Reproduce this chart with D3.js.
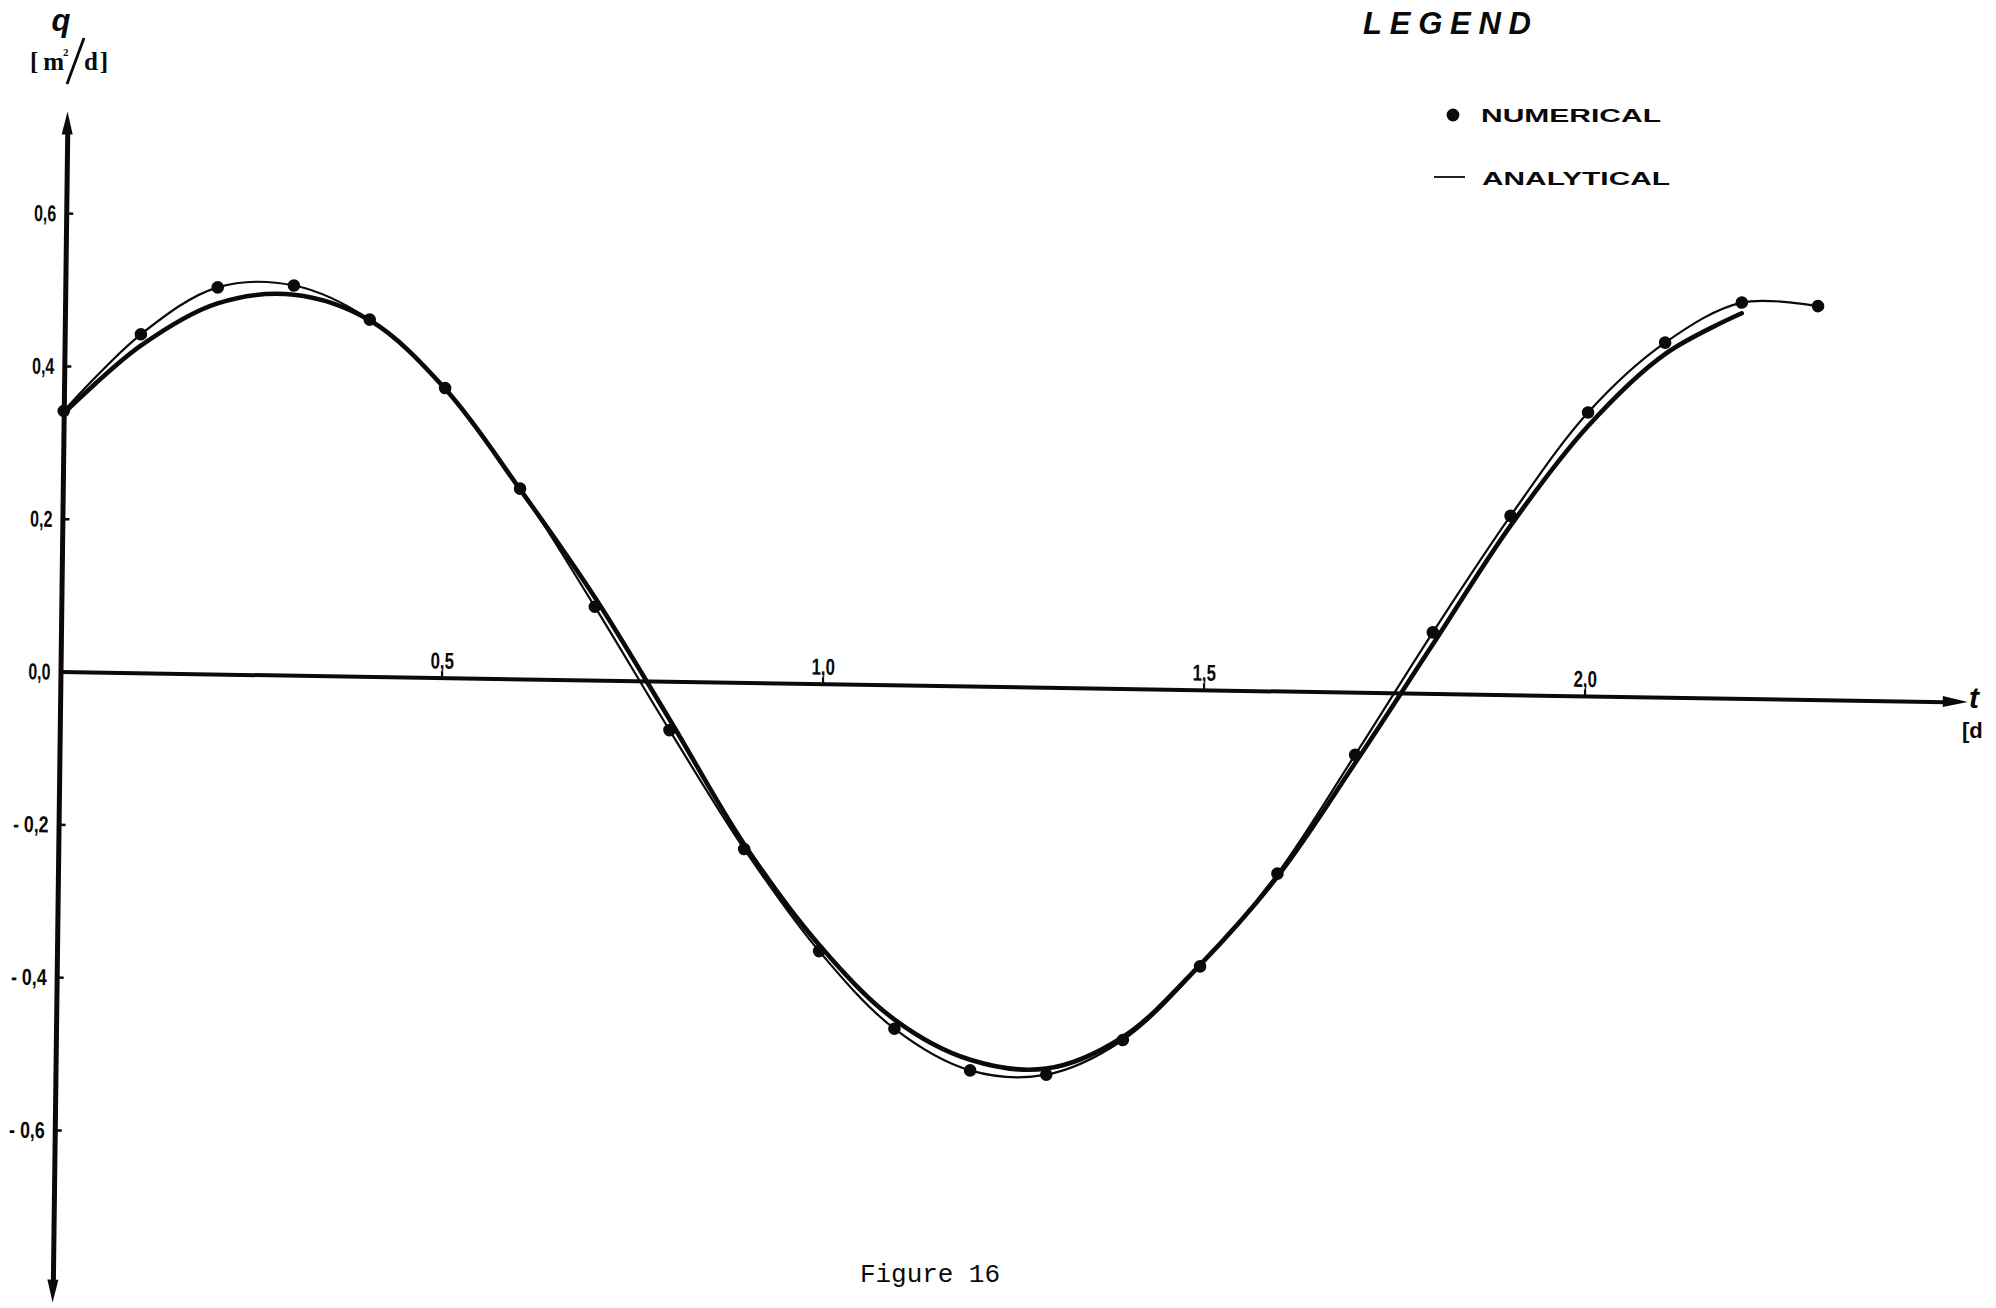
<!DOCTYPE html>
<html>
<head>
<meta charset="utf-8">
<script src="https://cdn.jsdelivr.net/npm/d3@7"></script>
<style>
  html, body { margin: 0; padding: 0; background: #fff; overflow: hidden; }
</style>
</head>
<body>
<svg id="chart" width="1996" height="1308"></svg>
<script>
// Discharge q [m²/d] against time t [d]
const timeDays = [0, 0.1, 0.2, 0.3, 0.4, 0.5, 0.6, 0.7, 0.8, 0.9, 1.0, 1.1,
                  1.2, 1.3, 1.4, 1.5, 1.6, 1.7, 1.8, 1.9, 2.0, 2.1, 2.2, 2.3];
const numericalQ = [0.341, 0.443, 0.506, 0.510, 0.467, 0.379, 0.249, 0.096,
                    -0.064, -0.218, -0.350, -0.450, -0.503, -0.507, -0.460, -0.362,
                    -0.239, -0.082, 0.080, 0.234, 0.371, 0.464, 0.518, 0.515];

const analyticalT = [0, 0.1, 0.2, 0.3, 0.4, 0.5, 0.6, 0.7, 0.8, 0.9, 1.0, 1.1,
                     1.2, 1.3, 1.4, 1.5, 1.6, 1.7, 1.8, 1.9, 2.0, 2.1, 2.2];
const analyticalQ = [0.338, 0.428, 0.485, 0.498, 0.466, 0.378, 0.248, 0.108,
                     -0.050, -0.212, -0.342, -0.438, -0.489, -0.499, -0.456, -0.360,
                     -0.243, -0.093, 0.064, 0.221, 0.353, 0.449, 0.504];

const yTicks = [0.6, 0.4, 0.2, 0, -0.2, -0.4, -0.6];
const yTickLabels = ["0,6", "0,4", "0,2", "0,0", "- 0,2", "- 0,4", "- 0,6"];
const xTicks = [0.5, 1.0, 1.5, 2.0];
const xTickLabels = ["0,5", "1,0", "1,5", "2,0"];

const legendLabels = ["NUMERICAL", "ANALYTICAL"];

// ---- layout ----
const W = 1996, H = 1308;
const origin = { x: 60.5, y: 671.5 };
const pxPerDay = 762, pxPerQ = 764;
const tMax = 2.503, qTop = 0.733, qBottom = -0.826;
const skewX = 0.016, skewY = -0.0125;   // the drawing sits slightly askew on the sheet

const sans = "'Liberation Sans', Arial, sans-serif";
const ink = "#0a0a0a";

const svg = d3.select("#chart");
svg.append("rect").attr("width", W).attr("height", H).attr("fill", "#fff");

const x = d3.scaleLinear().domain([0, tMax - 0.03]).range([0, (tMax - 0.03) * pxPerDay]);
const y = d3.scaleLinear()
  .domain([qBottom + 0.025, qTop - 0.025])
  .range([-(qBottom + 0.025) * pxPerQ, -(qTop - 0.025) * pxPerQ]);

const plot = svg.append("g")
  .attr("transform", `matrix(1, ${skewX}, ${skewY}, 1, ${origin.x}, ${origin.y})`);

// narrow, condensed-looking tick numerals
const squeeze = (sel, perChar) => sel
  .attr("textLength", function () { return this.textContent.replace(/ /g, "").length * perChar + (this.textContent.includes(" ") ? 6 : 0); })
  .attr("lengthAdjust", "spacingAndGlyphs");

// ---- y axis ----
const yAxis = d3.axisLeft(y)
  .tickValues(yTicks)
  .tickFormat(d => yTickLabels[yTicks.indexOf(d)])
  .tickSizeInner(-7).tickSizeOuter(0).tickPadding(10);
const gy = plot.append("g").call(yAxis)
  .attr("font-family", sans).attr("font-size", 23).attr("font-weight", "bold");
gy.select(".domain").attr("stroke", ink).attr("stroke-width", 5);
gy.selectAll(".tick line").attr("stroke", ink).attr("stroke-width", 2.5);
gy.selectAll(".tick text").attr("fill", ink).attr("dy", "0.34em").call(squeeze, 7.4);

// ---- x axis ----
const xAxis = d3.axisTop(x)
  .tickValues(xTicks)
  .tickFormat(d => xTickLabels[xTicks.indexOf(d)])
  .tickSizeInner(6).tickSizeOuter(0).tickPadding(3);
const gx = plot.append("g").call(xAxis)
  .attr("font-family", sans).attr("font-size", 23).attr("font-weight", "bold");
gx.select(".domain").attr("stroke", ink).attr("stroke-width", 4);
gx.selectAll(".tick line").attr("stroke", ink).attr("stroke-width", 2.2);
gx.selectAll(".tick text").attr("fill", ink).call(squeeze, 7.8);

// ---- arrow heads ----
const arrow = (tip, dir, len, half) => {
  const bx = tip[0] - dir[0] * len, by = tip[1] - dir[1] * len;
  const px = -dir[1] * half, py = dir[0] * half;
  return `M${tip[0]},${tip[1]}L${bx + px},${by + py}L${bx - px},${by - py}Z`;
};
plot.append("path").attr("d", arrow([0, y(qTop)], [0, -1], 23, 5.5)).attr("fill", ink);
plot.append("path").attr("d", arrow([0, y(qBottom)], [0, 1], 23, 5.5)).attr("fill", ink);
plot.append("path").attr("d", arrow([x(tMax), 0], [1, 0], 25, 5.5)).attr("fill", ink);

// ---- curves ----
const numData = timeDays.map((t, i) => ({ t, q: numericalQ[i] }));
const anaData = analyticalT.map((t, i) => ({ t, q: analyticalQ[i] }));

const line = d3.line()
  .x(d => x(d.t)).y(d => y(d.q))
  .curve(d3.curveCatmullRom.alpha(0.5));

plot.append("path").datum(anaData)
  .attr("d", line)
  .attr("fill", "none").attr("stroke", ink)
  .attr("stroke-width", 4.6).attr("stroke-linecap", "round").attr("stroke-linejoin", "round");

plot.append("path").datum(numData)
  .attr("d", line)
  .attr("fill", "none").attr("stroke", ink)
  .attr("stroke-width", 2.2).attr("stroke-linecap", "round");

plot.append("g").selectAll("circle").data(numData).join("circle")
  .attr("cx", d => x(d.t)).attr("cy", d => y(d.q)).attr("r", 6.3)
  .attr("fill", ink);

// ---- axis titles ----
svg.append("text").attr("x", 61).attr("y", 31)
  .attr("text-anchor", "middle")
  .attr("font-family", sans)
  .attr("font-weight", "bold").attr("font-style", "italic").attr("font-size", 31)
  .attr("fill", ink).text("q");

const unit = svg.append("g")
  .attr("font-family", "'Liberation Serif', 'Times New Roman', serif")
  .attr("font-weight", "bold").attr("fill", ink);
unit.append("text").attr("x", 30).attr("y", 70).attr("font-size", 25)
  .attr("textLength", 34).attr("lengthAdjust", "spacing").text("[ m");
unit.append("text").attr("x", 63).attr("y", 56).attr("font-size", 11).text("2");
unit.append("line").attr("x1", 84).attr("y1", 38).attr("x2", 67).attr("y2", 84)
  .attr("stroke", ink).attr("stroke-width", 2.8);
unit.append("text").attr("x", 84).attr("y", 70).attr("font-size", 25)
  .attr("textLength", 24).attr("lengthAdjust", "spacing").text("d ]");

svg.append("text").attr("x", 1969).attr("y", 708)
  .attr("font-family", sans)
  .attr("font-weight", "bold").attr("font-style", "italic").attr("font-size", 30)
  .attr("fill", ink).text("t");
svg.append("text").attr("x", 1962).attr("y", 738)
  .attr("font-family", sans)
  .attr("font-weight", "bold").attr("font-size", 22)
  .attr("fill", ink).text("[d");

// ---- legend ----
const legend = svg.append("g").attr("fill", ink);
legend.append("text").attr("x", 1363).attr("y", 34)
  .attr("font-family", sans)
  .attr("font-weight", "bold").attr("font-style", "italic").attr("font-size", 31)
  .attr("textLength", 168).attr("lengthAdjust", "spacing")
  .text("LEGEND");
legend.append("circle").attr("cx", 1453).attr("cy", 115).attr("r", 6.4);
legend.append("text").attr("x", 1481).attr("y", 122)
  .attr("font-family", sans)
  .attr("font-weight", "bold").attr("font-size", 19)
  .attr("textLength", 180).attr("lengthAdjust", "spacingAndGlyphs")
  .text(legendLabels[0]);
legend.append("line").attr("x1", 1434).attr("y1", 177).attr("x2", 1465).attr("y2", 177)
  .attr("stroke", ink).attr("stroke-width", 1.8);
legend.append("text").attr("x", 1482).attr("y", 185)
  .attr("font-family", sans)
  .attr("font-weight", "bold").attr("font-size", 19)
  .attr("textLength", 188).attr("lengthAdjust", "spacingAndGlyphs")
  .text(legendLabels[1]);

// ---- caption ----
svg.append("text").attr("x", 860).attr("y", 1282)
  .attr("font-family", "'Liberation Mono', 'Courier New', monospace")
  .attr("font-size", 26).attr("fill", ink)
  .attr("textLength", 140).attr("lengthAdjust", "spacing")
  .text("Figure 16");
</script>
</body>
</html>
